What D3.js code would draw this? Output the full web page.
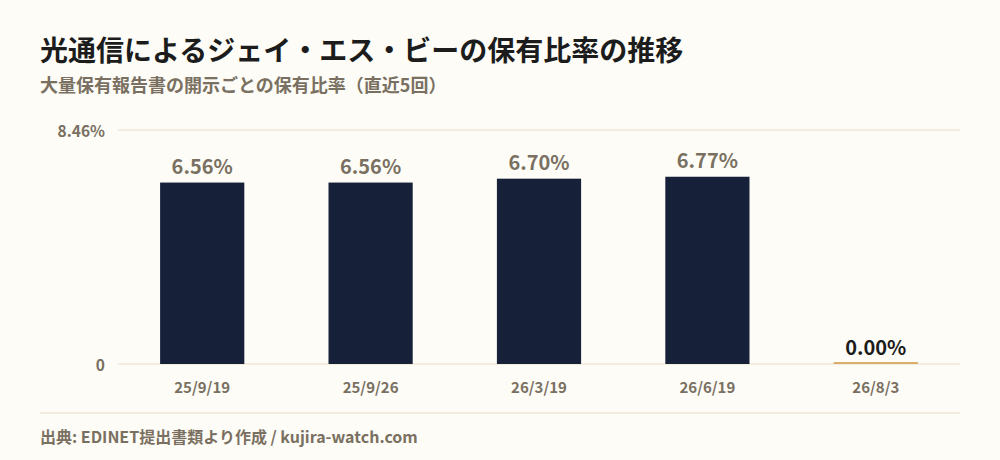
<!DOCTYPE html>
<html>
<head>
<meta charset="utf-8">
<script src="https://cdn.jsdelivr.net/npm/d3@7"></script>
<style>
  html, body { margin: 0; padding: 0; background: #fdfcf7; }
  svg { display: block; font-family: "Noto Sans CJK JP", "Noto Sans", sans-serif; }
</style>
</head>
<body>
<svg id="chart" width="1000" height="460"></svg>
<script>
// data
var dates = ["25/9/19", "25/9/26", "26/3/19", "26/6/19", "26/8/3"];
var ratios = [6.56, 6.56, 6.70, 6.77, 0.00];
var yTicks = [0, 8.46];

var width = 1000, height = 460;
var margin = {left: 118, right: 40, top: 130, bottom: 96};

var svg = d3.select("#chart");

svg.append("rect").attr("width", width).attr("height", height).attr("fill", "#fdfcf7");

// title
svg.append("text")
    .attr("x", 40).attr("y", 61)
    .attr("font-size", 28).attr("font-weight", 700)
    .attr("fill", "#1c1c1c")
    .text("光通信によるジェイ・エス・ビーの保有比率の推移");

svg.append("text")
    .attr("x", 40).attr("y", 92)
    .attr("font-size", 18).attr("font-weight", 700)
    .attr("fill", "#7a7061")
    .text("大量保有報告書の開示ごとの保有比率（直近5回）");

var x = d3.scaleBand()
    .domain(dates)
    .range([margin.left, width - margin.right])
    .paddingInner(0.5)
    .paddingOuter(0.25);

var y = d3.scaleLinear()
    .domain([0, 8.46])
    .range([height - margin.bottom, margin.top]);

// gridlines
svg.append("g")
    .selectAll("line")
    .data(yTicks)
    .enter().append("line")
    .attr("x1", margin.left).attr("x2", width - margin.right)
    .attr("y1", function(d) { return y(d); })
    .attr("y2", function(d) { return y(d); })
    .attr("stroke", "#e8dcc6")
    .attr("stroke-width", 1);

// y labels
svg.append("g")
    .selectAll("text")
    .data(yTicks)
    .enter().append("text")
    .attr("x", margin.left - 13)
    .attr("y", function(d) { return y(d); })
    .attr("dy", "0.45em")
    .attr("text-anchor", "end")
    .attr("font-size", 15.5).attr("font-weight", 700)
    .attr("fill", "#7a7061")
    .text(function(d) { return d === 0 ? "0" : d.toFixed(2) + "%"; });

// bars
svg.append("g")
    .selectAll("rect")
    .data(ratios)
    .enter().append("rect")
    .attr("x", function(d, i) { return x(dates[i]); })
    .attr("width", x.bandwidth())
    .attr("y", function(d) { return d > 0 ? y(d) : y(0) - 2; })
    .attr("height", function(d) { return d > 0 ? y(0) - y(d) : 2; })
    .attr("fill", function(d) { return d > 0 ? "#172039" : "#dcae6c"; });

// bar labels
svg.append("g")
    .selectAll("text")
    .data(ratios)
    .enter().append("text")
    .attr("x", function(d, i) { return x(dates[i]) + x.bandwidth() / 2; })
    .attr("y", function(d) { return y(d) - 9; })
    .attr("text-anchor", "middle")
    .attr("font-size", 20).attr("font-weight", 700)
    .attr("fill", function(d) { return d > 0 ? "#7a7061" : "#1c1c1c"; })
    .text(function(d) { return d.toFixed(2) + "%"; });

// x axis labels
svg.append("g")
    .selectAll("text")
    .data(dates)
    .enter().append("text")
    .attr("x", function(d) { return x(d) + x.bandwidth() / 2; })
    .attr("y", 393)
    .attr("text-anchor", "middle")
    .attr("font-size", 15).attr("font-weight", 700)
    .attr("fill", "#7a7061")
    .text(function(d) { return d; });

// footer
svg.append("line")
    .attr("x1", 40).attr("x2", width - 40)
    .attr("y1", 413).attr("y2", 413)
    .attr("stroke", "#e8dcc6");

svg.append("text")
    .attr("x", 40).attr("y", 443)
    .attr("font-size", 16).attr("font-weight", 700)
    .attr("fill", "#7a7061")
    .text("出典: EDINET提出書類より作成 / kujira-watch.com");
</script>
</body>
</html>
